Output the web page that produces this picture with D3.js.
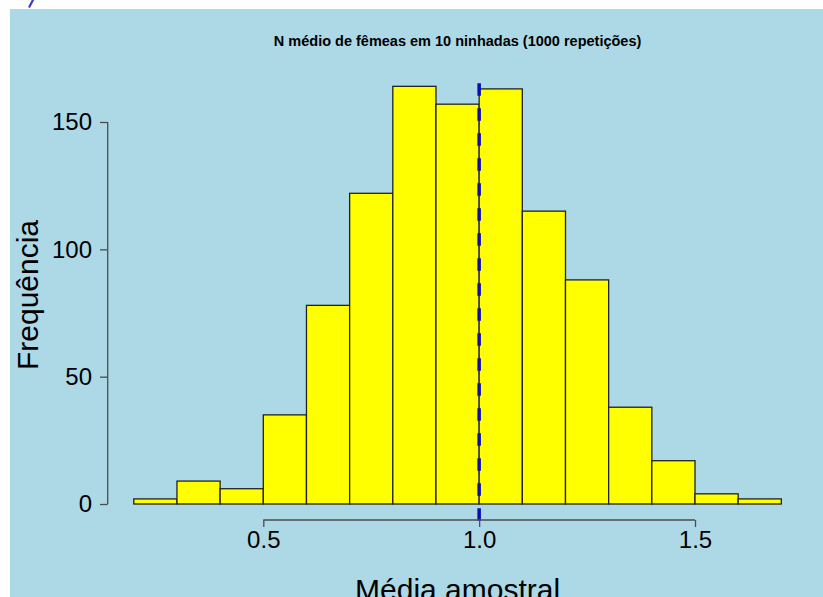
<!DOCTYPE html>
<html>
<head>
<meta charset="utf-8">
<script src="https://cdn.jsdelivr.net/npm/d3@7"></script>
<style>
  html, body { margin: 0; padding: 0; background: #ffffff; }
  svg { display: block; font-family: "Liberation Sans", Arial, Helvetica, sans-serif; }
</style>
</head>
<body>
<svg id="chart" width="823" height="597"></svg>
<script>
// ---- data ----
const binStarts = [0.2, 0.3, 0.4, 0.5, 0.6, 0.7, 0.8, 0.9, 1.0, 1.1, 1.2, 1.3, 1.4, 1.5, 1.6];
const binWidth = 0.1;
const counts = [2, 9, 6, 35, 78, 122, 164, 157, 163, 115, 88, 38, 17, 4, 2];
const xTicks = [0.5, 1.0, 1.5];
const xTickLabels = ["0.5", "1.0", "1.5"];
const yTicks = [0, 50, 100, 150];
const yTickLabels = ["0", "50", "100", "150"];
const meanLine = 1.0;
const titleText = "N médio de fêmeas em 10 ninhadas (1000 repetições)";
const xLabel = "Média amostral";
const yLabel = "Frequência";

// ---- layout ----
const svg = d3.select("#chart");
const W = 823, H = 597;

// light blue panel
svg.append("rect").attr("x", 10).attr("y", 9).attr("width", W - 10).attr("height", H - 9)
  .attr("fill", "#add8e6");

// small cut-off blue mark at top left
svg.append("line").attr("x1", 33.5).attr("y1", -1).attr("x2", 29).attr("y2", 7.5)
  .attr("stroke", "#3b3bcf").attr("stroke-width", 2.2);

const x = d3.scaleLinear().domain([0.5, 1.5]).range([263.3, 695]);
const y = d3.scaleLinear().domain([0, 150]).range([504, 122]);

// bars
svg.append("g").selectAll("rect").data(counts).join("rect")
  .attr("x", (d, i) => x(binStarts[i]))
  .attr("width", (d, i) => x(binStarts[i] + binWidth) - x(binStarts[i]))
  .attr("y", d => y(d))
  .attr("height", d => y(0) - y(d))
  .attr("fill", "#ffff00")
  .attr("stroke", "#222222")
  .attr("stroke-width", 1.3);

// mean line (dashed, drawn bottom-up across plot region)
svg.append("line")
  .attr("x1", x(meanLine)).attr("x2", x(meanLine))
  .attr("y1", y(-6.56)).attr("y2", y(165.6))
  .attr("stroke", "#0c0cb0").attr("stroke-width", 3.5)
  .attr("stroke-dasharray", "12.5,12.5");

// x axis
const xAxisG = svg.append("g").attr("transform", "translate(0,520)")
  .call(d3.axisBottom(x).tickValues(xTicks).tickFormat((d, i) => xTickLabels[i])
    .tickSize(7).tickPadding(4).tickSizeOuter(0));
xAxisG.select(".domain").remove();
xAxisG.append("line").attr("x1", x(xTicks[0])).attr("x2", x(xTicks[xTicks.length - 1]))
  .attr("y1", 0).attr("y2", 0).attr("stroke", "#4d4d4d").attr("stroke-width", 1.3);
xAxisG.selectAll(".tick line").attr("stroke", "#4d4d4d").attr("stroke-width", 1.3);
xAxisG.selectAll(".tick text").attr("fill", "#000").style("font-size", "24px")
  .style("font-family", "'Liberation Sans', Arial, sans-serif");

// y axis
const yAxisG = svg.append("g").attr("transform", "translate(107.7,0)")
  .call(d3.axisLeft(y).tickValues(yTicks).tickFormat((d, i) => yTickLabels[i])
    .tickSize(7.7).tickPadding(8).tickSizeOuter(0));
yAxisG.select(".domain").remove();
yAxisG.append("line").attr("y1", y(yTicks[0])).attr("y2", y(yTicks[yTicks.length - 1]))
  .attr("x1", 0).attr("x2", 0).attr("stroke", "#4d4d4d").attr("stroke-width", 1.3);
yAxisG.selectAll(".tick line").attr("stroke", "#4d4d4d").attr("stroke-width", 1.3);
yAxisG.selectAll(".tick text").attr("fill", "#000").style("font-size", "24px")
  .style("font-family", "'Liberation Sans', Arial, sans-serif");

// title
svg.append("text").attr("x", 457.6).attr("y", 45.5).attr("text-anchor", "middle")
  .style("font-size", "14.5px").style("font-weight", "bold").attr("fill", "#000")
  .text(titleText);

// axis labels
svg.append("text").attr("x", 457.6).attr("y", 600).attr("text-anchor", "middle")
  .style("font-size", "30px").attr("fill", "#000").text(xLabel);

svg.append("text").attr("transform", "translate(38,295) rotate(-90)")
  .attr("text-anchor", "middle").style("font-size", "30px").attr("fill", "#000")
  .text(yLabel);
</script>
</body>
</html>
